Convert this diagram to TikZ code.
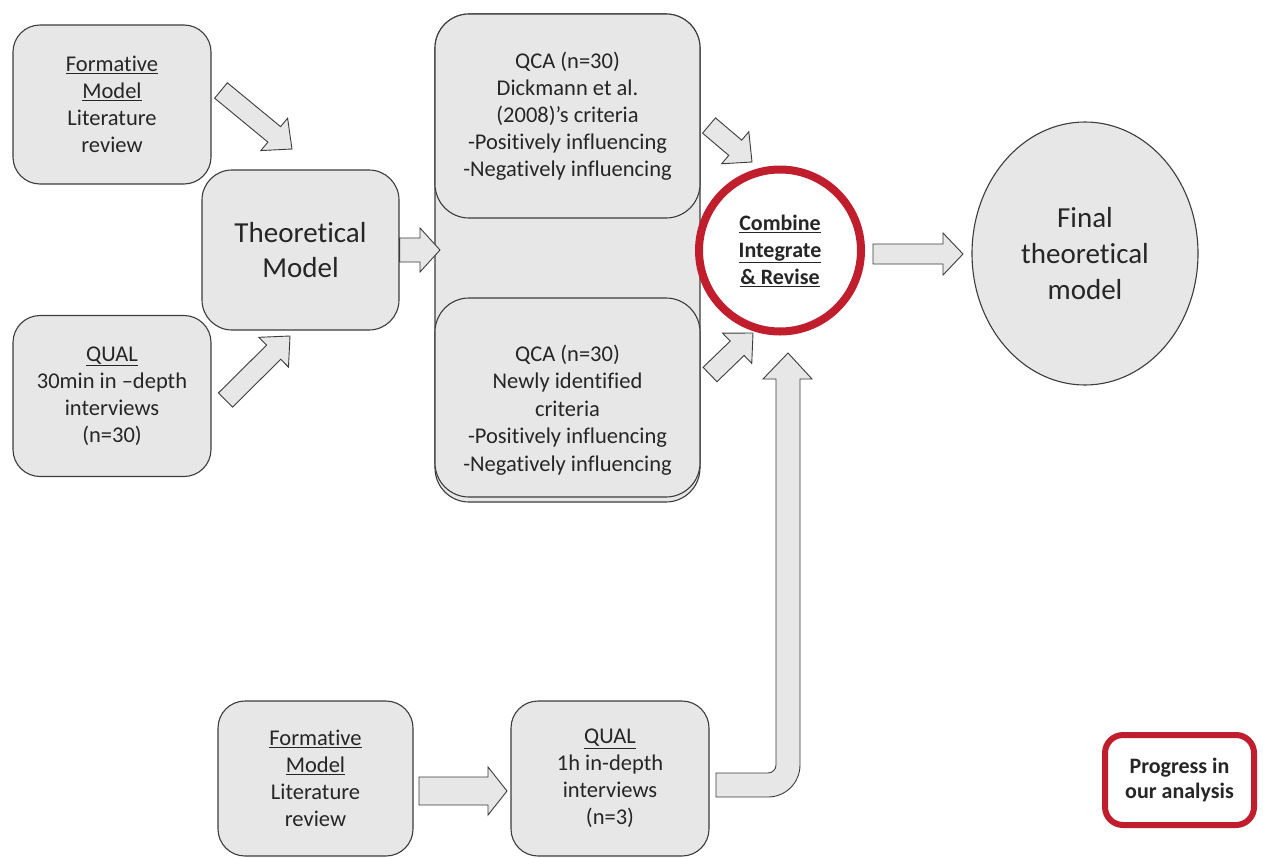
\documentclass[tikz,border=0pt]{standalone}
\usepackage{fontspec}
\setmainfont{Carlito}[Ligatures=NoCommon]
\usetikzlibrary{calc,shapes.geometric}
\definecolor{boxfill}{RGB}{231,231,231}
\definecolor{boxline}{RGB}{60,60,60}
\definecolor{txt}{RGB}{38,38,38}
\definecolor{redline}{RGB}{192,30,45}
% block arrow: tail, tip, half shaft width, half head width, head length
\newcommand{\blockarr}[5]{%
  \coordinate (ba-h) at ($(#2)!#5!(#1)$);
  \draw[blockarrow] ($(#1)!#3!90:(#2)$) -- ($(ba-h)!#3!90:(#2)$) -- ($(ba-h)!#4!90:(#2)$)
    -- (#2) -- ($(ba-h)!#4!-90:(#2)$) -- ($(ba-h)!#3!-90:(#2)$) -- ($(#1)!#3!-90:(#2)$) -- cycle;
}
\begin{document}
\begin{tikzpicture}[x=1pt,y=-1pt,
  gbox/.style={draw=boxline, fill=boxfill, line width=1.1pt, rounded corners=27pt,
    text=txt, align=center, inner sep=0pt,
    font=\fontsize{22.5}{27}\selectfont},
  qbox/.style={gbox, rounded corners=34pt, minimum width=265pt},
  plaintext/.style={text=txt, align=center, inner sep=0pt, font=\fontsize{22.5}{27.5}\selectfont},
  blockarrow/.style={draw=boxline, fill=boxfill, line width=0.9pt, line join=miter},
]
\useasboundingbox[fill=white] (0,0) rectangle (1263,857);

% left column
\node[gbox, minimum width=198pt, minimum height=159pt] (fmA) at (112,104.5)
  {\underline{Formative}\\\underline{Model}\\Literature\\review};
\node[gbox, minimum width=198pt, minimum height=161pt] (qual1) at (112,396)
  {\underline{QUAL}\\30min in –depth\\interviews\\(n=30)};
\node[gbox, rounded corners=30pt, minimum width=197pt, minimum height=160pt,
  font=\fontsize{29}{35}\selectfont] (tm) at (300.5,250) {Theoretical\\Model};

% QCA column
\node[qbox, minimum height=488pt] (qcabg) at (567.5,258) {};
\node[qbox, minimum height=204pt] (qca1) at (567.5,116)
  {QCA (n=30)\\Dickmann et al.\\(2008)’s criteria\\-Positively influencing\\-Negatively influencing};
\node[qbox, minimum height=199pt] (qca2) at (567.5,397.5) {};
\node[plaintext] (qca2t) at (567.5,410)
  {QCA (n=30)\\Newly identified\\criteria\\-Positively influencing\\-Negatively influencing};

% combine circle
\node[circle, draw=redline, line width=8pt, fill=white, minimum size=162pt, inner sep=0pt,
  text=txt, align=center, font=\bfseries\fontsize{22}{27}\selectfont] (circ) at (780,250.5)
  {\underline{Combine}\\\underline{Integrate}\\\underline{\&\ Revise}};

% final model
\node[ellipse, draw=boxline, fill=boxfill, line width=1.1pt, minimum width=226pt,
  minimum height=263pt, inner sep=0pt, text=txt, align=center,
  font=\fontsize{29}{36}\selectfont] (final) at (1085,253.5) {Final\\theoretical\\model};

% bottom row
\node[gbox, minimum width=195pt, minimum height=155pt] (fmC) at (315.5,778.5)
  {\underline{Formative}\\\underline{Model}\\Literature\\review};
\node[gbox, minimum width=198pt, minimum height=155pt] (qual2) at (610,778.5)
  {\underline{QUAL}\\1h in-depth\\interviews\\(n=3)};

% legend
\node[draw=redline, line width=6pt, rounded corners=18pt, fill=white, minimum width=149pt,
  minimum height=90pt, inner sep=0pt, text=txt, align=center,
  font=\bfseries\fontsize{22}{25.5}\selectfont] (legend) at (1179.5,780)
  {Progress in\\our analysis};

% arrow end points
\coordinate (a1t) at (221,90.5);   \coordinate (a1h) at (292,149);
\coordinate (a2t) at (225.5,400);  \coordinate (a2h) at (290,336);
\coordinate (a3h) at (440,250);
\coordinate (a4t) at (709,125.5);  \coordinate (a4h) at (752,162);
\coordinate (a5t) at (710,374.5);  \coordinate (a5h) at (753,333);
\coordinate (a6t) at (873,254);    \coordinate (a6h) at (963,254);
\coordinate (a7t) at (419,791);    \coordinate (a7h) at (507,791);

\blockarr{a1t}{a1h}{10pt}{21pt}{23pt}
\blockarr{a2t}{a2h}{10pt}{21pt}{23pt}
\blockarr{tm.east}{a3h}{12pt}{22pt}{20pt}
\blockarr{a4t}{a4h}{10pt}{21pt}{22pt}
\blockarr{a5t}{a5h}{10pt}{21pt}{22pt}
\blockarr{a6t}{a6h}{10pt}{21pt}{20pt}
\blockarr{a7t}{a7h}{14pt}{24pt}{19pt}

% bent arrow from QUAL (1h) to combine circle
\coordinate (b0) at (716,785);
\coordinate (btip) at (788,353);
\draw[blockarrow] ($(b0)+(0,-12)$) -- (768,773) arc[start angle=90, end angle=0, radius=8]
  -- (776,379) -- (763,379) -- (btip) -- (812,379) -- (800,379) -- (800,765)
  arc[start angle=0, end angle=90, radius=32] -- ($(b0)+(0,12)$) -- cycle;
\end{tikzpicture}
\end{document}
